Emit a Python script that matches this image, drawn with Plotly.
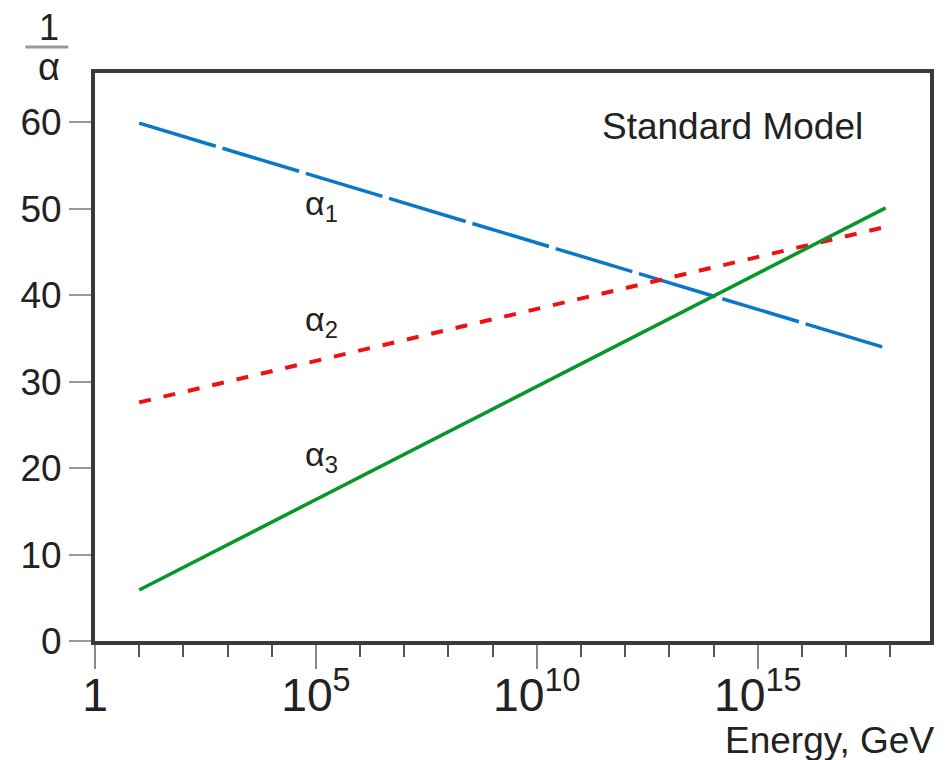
import plotly.graph_objects as go

# Data (energy in GeV, inverse couplings)
energy = [1e1, 7.9e17]
inv_alpha1 = [59.9, 33.9]
inv_alpha2 = [27.6, 47.9]
inv_alpha3 = [5.9, 50.1]

y_ticks = [0, 10, 20, 30, 40, 50, 60]

FONT = "Liberation Sans, Arial, sans-serif"
TXT = "#222222"

fig = go.Figure()
fig.add_trace(go.Scatter(x=energy, y=inv_alpha1, mode="lines",
                         line=dict(color="#0a78c8", width=3.5, dash="80px,7px"),
                         showlegend=False))
fig.add_trace(go.Scatter(x=energy, y=inv_alpha2, mode="lines",
                         line=dict(color="#ee1111", width=4, dash="12px,13px"),
                         showlegend=False))
fig.add_trace(go.Scatter(x=energy, y=inv_alpha3, mode="lines",
                         line=dict(color="#08962a", width=3.5),
                         showlegend=False))

# page body has an 8px margin, so the figure is 8px smaller than the window
fig.update_layout(
    width=938, height=752,
    margin=dict(l=85, r=13, t=65, b=119),
    paper_bgcolor="white", plot_bgcolor="white",
    font=dict(family=FONT, size=36, color=TXT),
    xaxis=dict(type="log", range=[0, 18.9], dtick=5, exponentformat="power",
               showgrid=False, zeroline=False,
               showline=True, linecolor="#3a3a3a", linewidth=4, mirror=True,
               ticks="outside", ticklen=24, tickwidth=2, tickcolor="#888888",
               minor=dict(dtick=1, ticks="outside", ticklen=12, tickwidth=2,
                          tickcolor="#555555", showgrid=False),
               ticklabelstandoff=-12,
               tickfont=dict(size=37, color=TXT)),
    yaxis=dict(range=[0, 65.7], tickvals=y_ticks,
               showgrid=False, zeroline=False,
               showline=True, linecolor="#3a3a3a", linewidth=4, mirror=True,
               ticks="outside", ticklen=22, tickwidth=2, tickcolor="#999999",
               tickfont=dict(size=37, color=TXT)),
)

# Curve labels
fig.add_annotation(x=5.13, y=50.4, text="α<sub>1</sub>", showarrow=False,
                   xanchor="center", yanchor="middle",
                   font=dict(size=34, color=TXT))
fig.add_annotation(x=5.13, y=37.0, text="α<sub>2</sub>", showarrow=False,
                   xanchor="center", yanchor="middle",
                   font=dict(size=34, color=TXT))
fig.add_annotation(x=5.13, y=21.3, text="α<sub>3</sub>", showarrow=False,
                   xanchor="center", yanchor="middle",
                   font=dict(size=34, color=TXT))

fig.add_annotation(xref="paper", yref="paper", x=0.763, y=0.905,
                   xanchor="center", yanchor="middle",
                   text="Standard Model", showarrow=False,
                   font=dict(size=37, color=TXT))

# Axis title
fig.add_annotation(xref="paper", yref="paper", x=1, y=0, xanchor="right",
                   yanchor="middle", xshift=6, yshift=-99,
                   text="Energy, GeV", showarrow=False,
                   font=dict(size=37, color=TXT))

# y title: 1/alpha as fraction
fig.add_annotation(xref="paper", yref="paper", x=0, y=1, xshift=-46, yshift=46,
                   xanchor="center", yanchor="middle", text="1", showarrow=False,
                   font=dict(size=36, color=TXT))
fig.add_annotation(xref="paper", yref="paper", x=0, y=1, xshift=-46, yshift=6,
                   xanchor="center", yanchor="middle", text="α", showarrow=False,
                   font=dict(size=38, color=TXT))
fig.add_shape(type="line", xref="paper", yref="paper",
              x0=-0.0833, x1=-0.032, y0=1.0458, y1=1.0458,
              line=dict(color="#999999", width=3))

fig.write_html("out.html")
